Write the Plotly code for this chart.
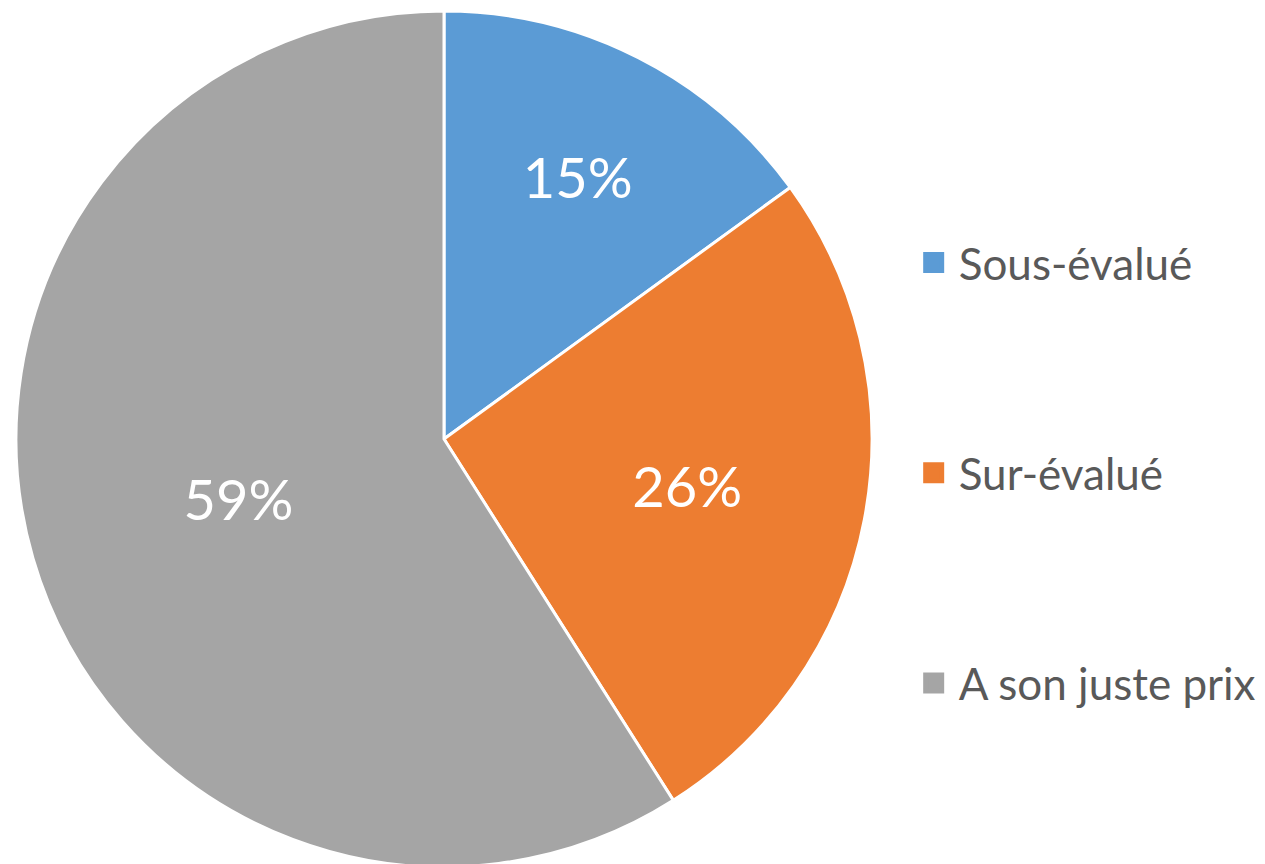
import plotly.graph_objects as go

# Données
categories = ["Sous-évalué", "Sur-évalué", "A son juste prix"]
valeurs = [15, 26, 59]
couleurs = ["#5B9BD5", "#ED7D31", "#A5A5A5"]

fig = go.Figure()

fig.add_trace(go.Pie(
    labels=categories,
    values=valeurs,
    sort=False,
    direction="clockwise",
    rotation=0,
    marker=dict(colors=couleurs, line=dict(color="white", width=3)),
    texttemplate="%{percent:.0%}",
    textposition="inside",
    insidetextorientation="horizontal",
    textfont=dict(color="white", size=56, family="Lato"),
    showlegend=False,
    hoverinfo="label+percent",
    domain=dict(x=[8 / 1265, 864 / 1265], y=[5 / 864, 861 / 864]),
))

# légende séparée pour espacer les entrées
for i, (cat, col) in enumerate(zip(categories, couleurs)):
    fig.add_trace(go.Scatter(
        x=[None], y=[None], mode="markers", name=cat,
        legendgroup=f"g{i}",
        marker=dict(symbol="square", size=16, color=col,
                    line=dict(color=col, width=6)),
    ))

fig.update_layout(
    width=1265, height=864,
    margin=dict(l=0, r=0, t=0, b=0),
    paper_bgcolor="white", plot_bgcolor="white",
    xaxis=dict(visible=False), yaxis=dict(visible=False),
    font=dict(family="Lato", color="#595959"),
    legend=dict(
        x=0.712, xanchor="left", y=1 - 465 / 864, yanchor="middle",
        font=dict(size=44, color="#595959"),
        tracegroupgap=150, itemwidth=40,
        bgcolor="rgba(0,0,0,0)",
    ),
)

fig.write_html("out.html")
